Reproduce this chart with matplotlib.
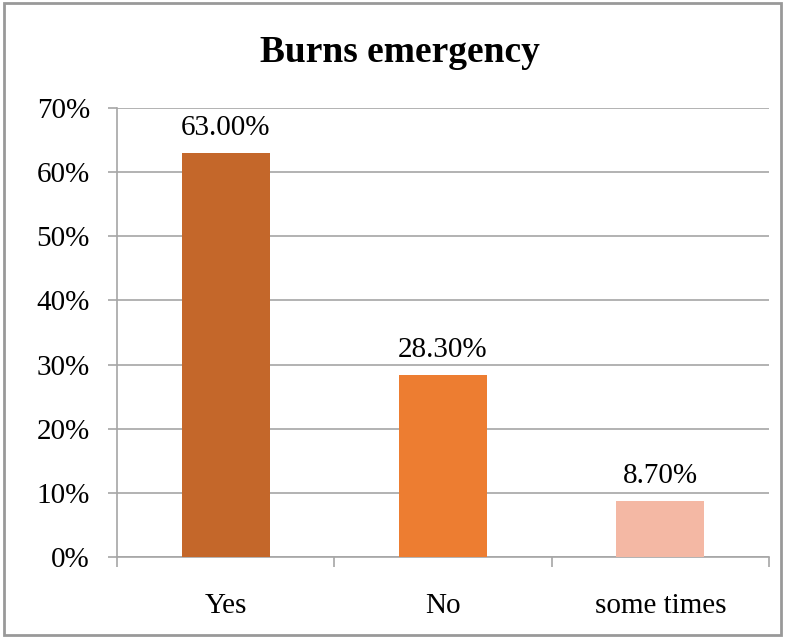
import numpy as np
import matplotlib.pyplot as plt
from matplotlib.patches import Rectangle

# データ
categories = ['Yes', 'No', 'some times']
values = [63.0, 28.3, 8.7]
labels = ['63.00%', '28.30%', '8.70%']
colors = ['#C4672A', '#ED7D31', '#F4B8A4']

plt.rcParams['font.family'] = ['Liberation Serif', 'DejaVu Serif']

fig = plt.figure(figsize=(7.85, 6.38), dpi=100)
ax = fig.add_axes([117/785, 1-557/638, (769-117)/785, (557-108)/638])

x = np.arange(len(categories))
ax.bar(x, values, width=0.405, color=colors, zorder=3)

for xi, v, lab in zip(x, values, labels):
    ax.annotate(lab, (xi, v), xytext=(0, 18), textcoords='offset points',
                ha='center', va='center', fontsize=21)

ax.set_xlim(-0.5, 2.5)
ax.set_ylim(0, 70)
ax.set_yticks(np.arange(0, 71, 10))
ax.set_yticklabels([f'{t}%' for t in range(0, 71, 10)], fontsize=21)
ax.yaxis.grid(True, color='#A6A6A6', linewidth=1.2, zorder=0)

# x軸の目盛りはカテゴリの境目
ax.set_xticks([-0.5, 0.5, 1.5, 2.5])
ax.set_xticklabels([])
ax.set_xticks(x, minor=True)
ax.set_xticklabels(categories, minor=True, fontsize=21)
ax.tick_params(axis='x', which='major', length=7.5, color='#A6A6A6', width=1.2)
ax.tick_params(axis='x', which='minor', length=0, pad=26)
ax.tick_params(axis='y', length=6.5, color='#A6A6A6', width=1.2, pad=13)

for s in ['top', 'right']:
    ax.spines[s].set_visible(False)
for s in ['left', 'bottom']:
    ax.spines[s].set_color('#A6A6A6')
    ax.spines[s].set_linewidth(1.2)

fig.text(0.51, 1-53/638, 'Burns emergency', ha='center', va='center',
         fontsize=27, fontweight='bold')

# 外枠
fig.patches.append(Rectangle((4/785, 3/638), 777/785, 632/638, transform=fig.transFigure,
                             fill=False, edgecolor='#999999', linewidth=2))

fig.savefig('out.png', dpi=100)
